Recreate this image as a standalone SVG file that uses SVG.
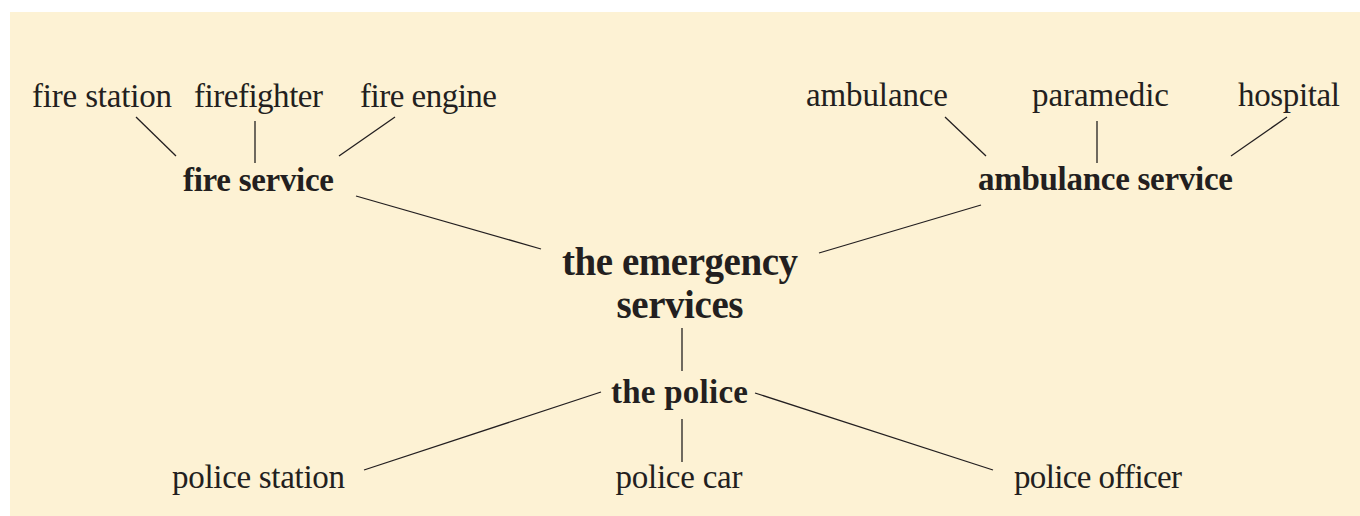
<svg xmlns="http://www.w3.org/2000/svg" width="1360" height="516" viewBox="0 0 1360 516">
  <style>
    .bg { fill: #fdf2d4; }
    text { font-family: "Liberation Serif", "Times New Roman", serif; fill: #231f20; text-anchor: middle; }
    .leaf { font-size: 33px; }
    .hub { font-size: 33px; font-weight: bold; }
    .root { font-size: 39px; font-weight: bold; }
    #connectors line { stroke: #231f20; stroke-width: 1.3; stroke-linecap: butt; }
  </style>

  <!-- panel -->
  <rect class="bg" x="10" y="12" width="1350" height="504"/>

  <!-- connectors -->
  <g id="connectors">
    <line x1="136" y1="117" x2="176" y2="156"/>
    <line x1="255" y1="121" x2="255" y2="163"/>
    <line x1="395" y1="117" x2="339" y2="156"/>
    <line x1="356" y1="196" x2="541" y2="249"/>
    <line x1="945" y1="117" x2="986" y2="156"/>
    <line x1="1097" y1="121" x2="1097" y2="163"/>
    <line x1="1287" y1="117" x2="1231" y2="156"/>
    <line x1="981" y1="205" x2="819" y2="253"/>
    <line x1="682" y1="328" x2="682" y2="371"/>
    <line x1="601" y1="392" x2="364" y2="470"/>
    <line x1="755" y1="393" x2="993" y2="470"/>
    <line x1="682" y1="419" x2="682" y2="462"/>
  </g>

  <!-- centre -->
  <g id="emergency-services">
    <text class="root" x="680" y="275" textLength="236">the emergency</text>
    <text class="root" x="680" y="318" textLength="127">services</text>
  </g>

  <!-- fire branch -->
  <g id="fire-service">
    <text class="hub" x="258.5" y="191" textLength="151">fire service</text>
  </g>
  <g id="fire-station">
    <text class="leaf" x="102" y="107" textLength="140">fire station</text>
  </g>
  <g id="firefighter">
    <text class="leaf" x="258.5" y="107" textLength="129">firefighter</text>
  </g>
  <g id="fire-engine">
    <text class="leaf" x="428.5" y="107" textLength="137">fire engine</text>
  </g>

  <!-- ambulance branch -->
  <g id="ambulance-service">
    <text class="hub" x="1105.5" y="190" textLength="255">ambulance service</text>
  </g>
  <g id="ambulance">
    <text class="leaf" x="877" y="106" textLength="142">ambulance</text>
  </g>
  <g id="paramedic">
    <text class="leaf" x="1100.5" y="106" textLength="137">paramedic</text>
  </g>
  <g id="hospital">
    <text class="leaf" x="1289" y="106" textLength="102">hospital</text>
  </g>

  <!-- police branch -->
  <g id="the-police">
    <text class="hub" x="679.5" y="403" textLength="137">the police</text>
  </g>
  <g id="police-station">
    <text class="leaf" x="258.5" y="488" textLength="173">police station</text>
  </g>
  <g id="police-car">
    <text class="leaf" x="679" y="488" textLength="127">police car</text>
  </g>
  <g id="police-officer">
    <text class="leaf" x="1098" y="488" textLength="168">police officer</text>
  </g>
</svg>
